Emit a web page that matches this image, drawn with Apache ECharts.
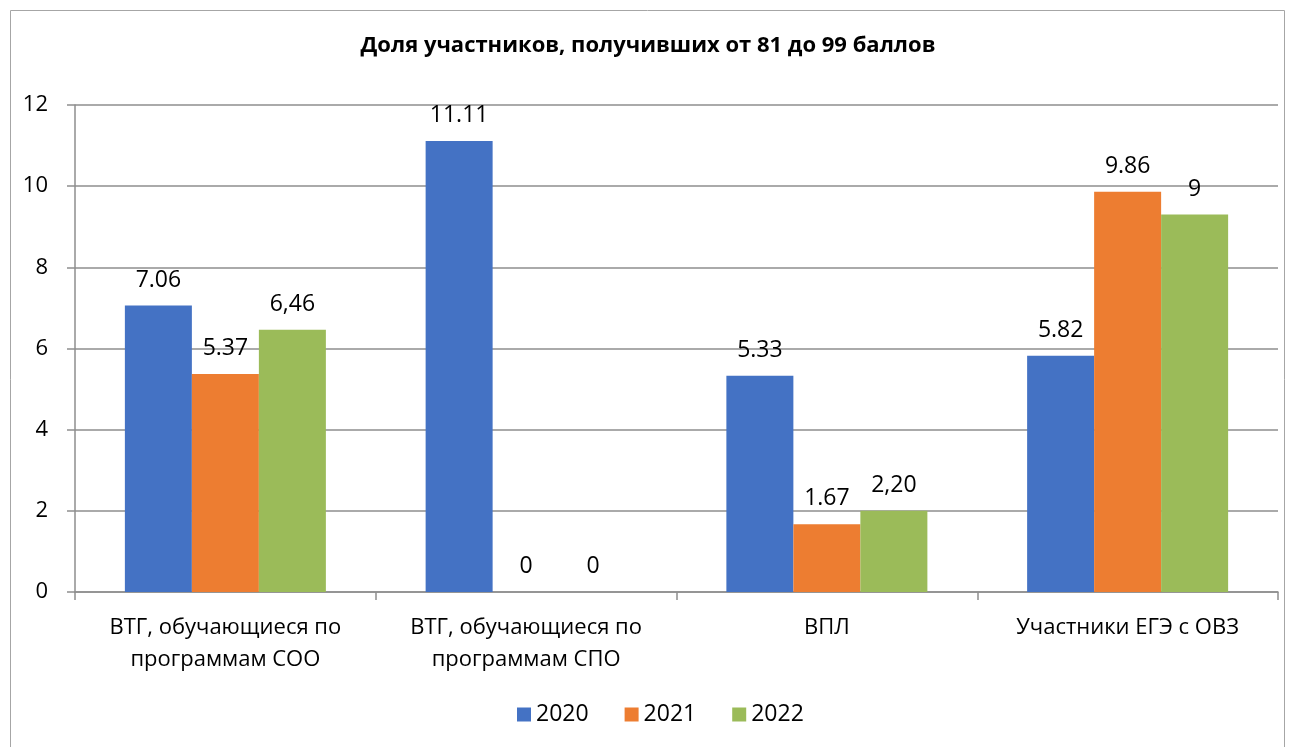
<!DOCTYPE html>
<html>
<head>
<meta charset="utf-8">
<script src="https://cdn.jsdelivr.net/npm/echarts@6/dist/echarts.min.js"></script>
<style>
  html, body { margin: 0; padding: 0; background: #fff; }
  #chart { width: 1296px; height: 747px; }
</style>
</head>
<body>
<div id="chart"></div>
<script>
const titleText = 'Доля участников, получивших от 81 до 99 баллов'
const categories = [
  'ВТГ, обучающиеся по\nпрограммам СОО',
  'ВТГ, обучающиеся по\nпрограммам СПО',
  'ВПЛ',
  'Участники ЕГЭ с ОВЗ'
]
const years = ['2020', '2021', '2022']
const values2020 = [7.06, 11.11, 5.33, 5.82]
const values2021 = [5.37, 0, 1.67, 9.86]
const values2022 = [6.46, 0, 2.0, 9.3]
// labels as printed on the original (they don't always match the bar height)
const labels2020 = ['7.06', '11.11', '5.33', '5.82']
const labels2021 = ['5.37', '0', '1.67', '9.86']
const labels2022 = ['6,46', '0', '2,20', '9']
const colors = ['#4472C4', '#ED7D31', '#9BBB59']

const font = '"Open Sans", "Noto Sans", sans-serif'
const chart = echarts.init(document.getElementById('chart'))

function makeSeries(name, data, labels, color) {
  return {
    name: name,
    type: 'bar',
    data: data,
    barWidth: 67,
    barGap: '0%',
    itemStyle: { color: color },
    label: {
      show: true,
      position: 'top',
      distance: 14,
      color: '#000',
      fontFamily: font,
      fontSize: 23,
      formatter: p => labels[p.dataIndex]
    },
    animation: false
  }
}

chart.setOption({
  graphic: [{
    type: 'rect',
    shape: { x: 10.5, y: 10.5, width: 1274, height: 760 },
    style: { fill: 'none', stroke: '#a6a6a6', lineWidth: 1 },
    silent: true
  }],
  title: {
    text: titleText,
    left: 'center',
    top: 30,
    textStyle: {
      fontFamily: font,
      fontWeight: 'bold',
      fontSize: 22,
      color: '#000'
    }
  },
  legend: {
    data: years,
    bottom: 16,
    left: 512,
    itemWidth: 14,
    itemHeight: 14,
    itemGap: 36,
    icon: 'rect',
    textStyle: { fontFamily: font, fontSize: 23, color: '#000' }
  },
  grid: {
    left: 75,
    right: 18,
    top: 105,
    bottom: 155
  },
  xAxis: {
    type: 'category',
    data: categories,
    axisLine: { lineStyle: { color: '#8e8e8e', width: 1.5 } },
    axisTick: { show: true, length: 8, lineStyle: { color: '#8e8e8e', width: 1.5 } },
    axisLabel: {
      fontFamily: font,
      fontSize: 22,
      color: '#000',
      lineHeight: 32,
      margin: 20,
      interval: 0
    }
  },
  yAxis: {
    type: 'value',
    min: 0,
    max: 12,
    interval: 2,
    axisLine: { show: true, lineStyle: { color: '#8e8e8e', width: 1.5 } },
    axisTick: { show: true, length: 8, lineStyle: { color: '#8e8e8e', width: 1.5 } },
    splitLine: { lineStyle: { color: '#8e8e8e', width: 1.5 } },
    axisLabel: {
      fontFamily: font,
      fontSize: 22,
      color: '#000',
      margin: 27
    }
  },
  series: [
    makeSeries(years[0], values2020, labels2020, colors[0]),
    makeSeries(years[1], values2021, labels2021, colors[1]),
    makeSeries(years[2], values2022, labels2022, colors[2])
  ]
})
</script>
</body>
</html>
